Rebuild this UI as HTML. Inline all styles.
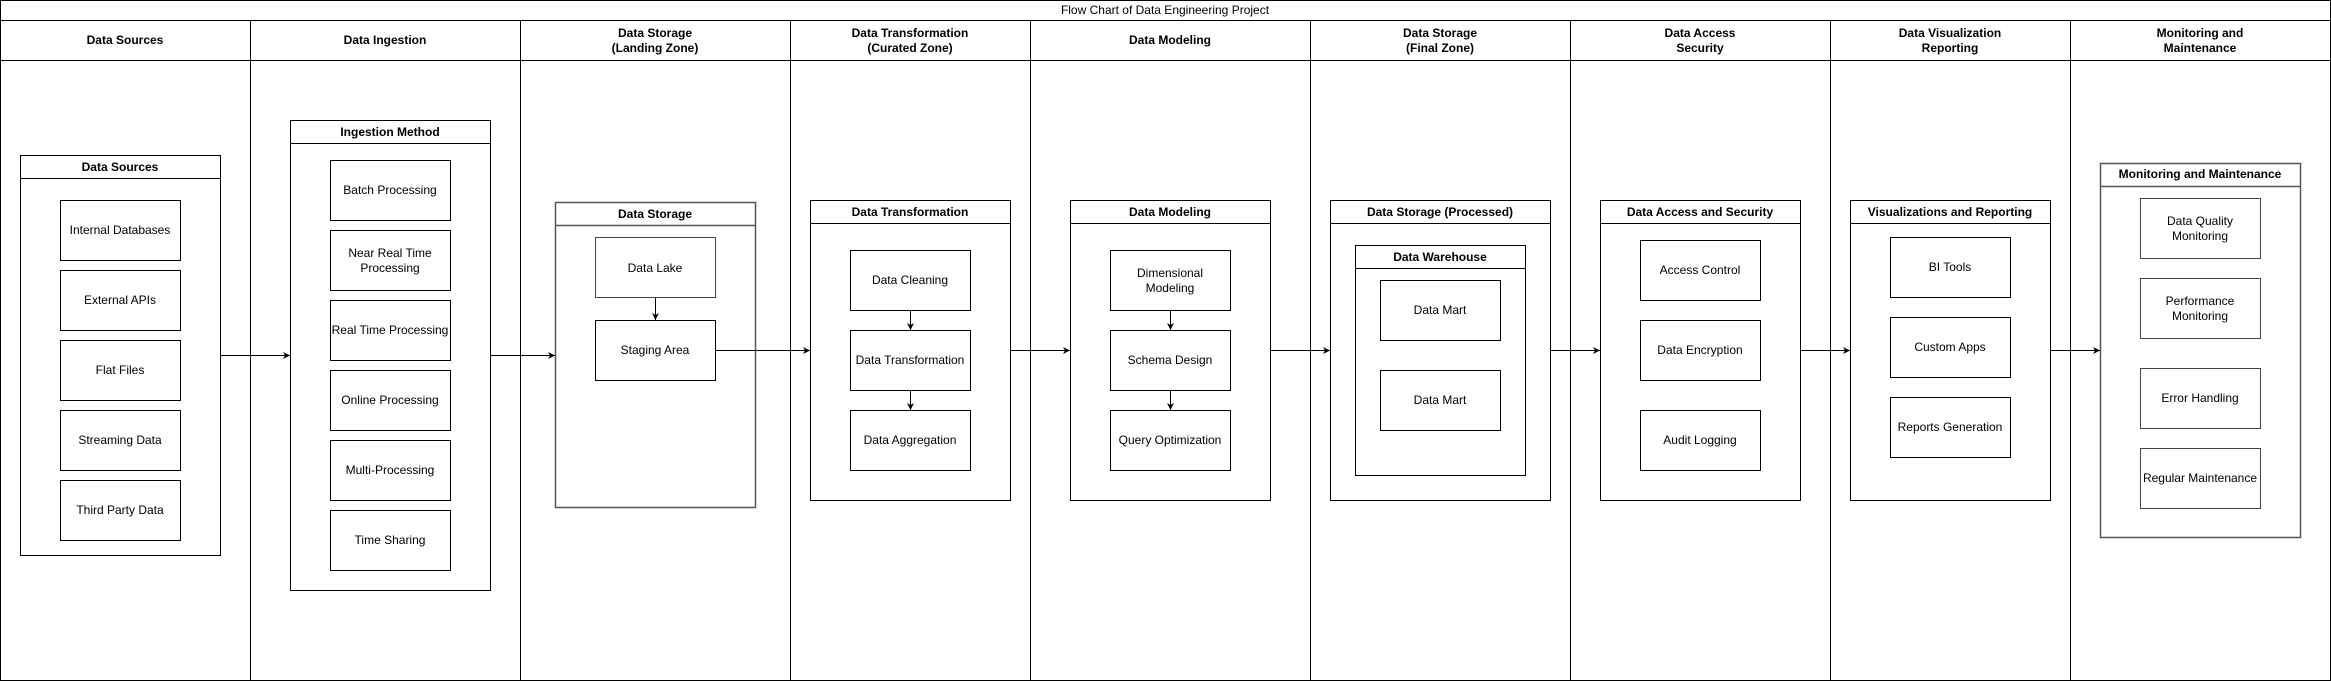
<!DOCTYPE html>
<html><head><meta charset="utf-8"><style>
html,body{margin:0;padding:0;background:#fff}
svg{display:block}
text{font-family:"Liberation Sans",Arial,sans-serif;font-size:12px;fill:#000}
.b{font-weight:bold}
</style></head><body>
<svg width="2331" height="681" viewBox="0 0 2331 681" xmlns="http://www.w3.org/2000/svg">
<defs><marker id="a" markerWidth="8" markerHeight="8" refX="7" refY="4" orient="auto" markerUnits="userSpaceOnUse"><path d="M0,0.5 L7,4 L0,7.5 L2,4 Z" fill="#000"/></marker></defs>
<g fill="none" stroke="#000" stroke-width="1">
<rect x="0.5" y="0.5" width="2330" height="680"/>
<line x1="0" y1="20.5" x2="2331" y2="20.5"/>
<line x1="0" y1="60.5" x2="2331" y2="60.5"/>
<line x1="250.5" y1="20" x2="250.5" y2="681"/>
<line x1="520.5" y1="20" x2="520.5" y2="681"/>
<line x1="790.5" y1="20" x2="790.5" y2="681"/>
<line x1="1030.5" y1="20" x2="1030.5" y2="681"/>
<line x1="1310.5" y1="20" x2="1310.5" y2="681"/>
<line x1="1570.5" y1="20" x2="1570.5" y2="681"/>
<line x1="1830.5" y1="20" x2="1830.5" y2="681"/>
<line x1="2070.5" y1="20" x2="2070.5" y2="681"/>
<!-- containers -->
<rect x="20.5" y="155.5" width="200" height="400"/><line x1="20" y1="178.5" x2="221" y2="178.5"/>
<rect x="290.5" y="120.5" width="200" height="470"/><line x1="290" y1="143.5" x2="491" y2="143.5"/>
<rect x="555.5" y="202.5" width="200" height="305" stroke="#555" stroke-width="1.5"/><line x1="555" y1="225.5" x2="756" y2="225.5" stroke="#555" stroke-width="1.5"/>
<rect x="810.5" y="200.5" width="200" height="300"/><line x1="810" y1="223.5" x2="1011" y2="223.5"/>
<rect x="1070.5" y="200.5" width="200" height="300"/><line x1="1070" y1="223.5" x2="1271" y2="223.5"/>
<rect x="1330.5" y="200.5" width="220" height="300"/><line x1="1330" y1="223.5" x2="1551" y2="223.5"/>
<rect x="1355.5" y="245.5" width="170" height="230"/><line x1="1355" y1="268.5" x2="1526" y2="268.5"/>
<rect x="1600.5" y="200.5" width="200" height="300"/><line x1="1600" y1="223.5" x2="1801" y2="223.5"/>
<rect x="1850.5" y="200.5" width="200" height="300"/><line x1="1850" y1="223.5" x2="2051" y2="223.5"/>
<rect x="2100.5" y="163.5" width="200" height="374" stroke="#555" stroke-width="1.5"/><line x1="2100" y1="186.5" x2="2301" y2="186.5" stroke="#555" stroke-width="1.5"/>
<!-- items -->
<rect x="60.5" y="200.5" width="120" height="60"/><rect x="60.5" y="270.5" width="120" height="60"/><rect x="60.5" y="340.5" width="120" height="60"/><rect x="60.5" y="410.5" width="120" height="60"/><rect x="60.5" y="480.5" width="120" height="60"/>
<rect x="330.5" y="160.5" width="120" height="60"/><rect x="330.5" y="230.5" width="120" height="60"/><rect x="330.5" y="300.5" width="120" height="60"/><rect x="330.5" y="370.5" width="120" height="60"/><rect x="330.5" y="440.5" width="120" height="60"/><rect x="330.5" y="510.5" width="120" height="60"/>
<rect x="595.5" y="237.5" width="120" height="60" stroke="#444"/><rect x="595.5" y="320.5" width="120" height="60"/>
<rect x="850.5" y="250.5" width="120" height="60"/><rect x="850.5" y="330.5" width="120" height="60"/><rect x="850.5" y="410.5" width="120" height="60"/>
<rect x="1110.5" y="250.5" width="120" height="60"/><rect x="1110.5" y="330.5" width="120" height="60"/><rect x="1110.5" y="410.5" width="120" height="60"/>
<rect x="1380.5" y="280.5" width="120" height="60"/><rect x="1380.5" y="370.5" width="120" height="60"/>
<rect x="1640.5" y="240.5" width="120" height="60"/><rect x="1640.5" y="320.5" width="120" height="60"/><rect x="1640.5" y="410.5" width="120" height="60"/>
<rect x="1890.5" y="237.5" width="120" height="60"/><rect x="1890.5" y="317.5" width="120" height="60"/><rect x="1890.5" y="397.5" width="120" height="60"/>
<g stroke="#444"><rect x="2140.5" y="198.5" width="120" height="60"/><rect x="2140.5" y="278.5" width="120" height="60"/><rect x="2140.5" y="368.5" width="120" height="60"/><rect x="2140.5" y="448.5" width="120" height="60"/></g>
<!-- arrows -->
<g marker-end="url(#a)">
<line x1="221" y1="355.5" x2="290" y2="355.5"/>
<line x1="491" y1="355.5" x2="555" y2="355.5"/>
<line x1="716" y1="350.5" x2="810" y2="350.5"/>
<line x1="1011" y1="350.5" x2="1070" y2="350.5"/>
<line x1="1271" y1="350.5" x2="1330" y2="350.5"/>
<line x1="1551" y1="350.5" x2="1600" y2="350.5"/>
<line x1="1801" y1="350.5" x2="1850" y2="350.5"/>
<line x1="2051" y1="350.5" x2="2100" y2="350.5"/>
<line x1="655.5" y1="298" x2="655.5" y2="320"/>
<line x1="910.5" y1="311" x2="910.5" y2="330"/>
<line x1="910.5" y1="391" x2="910.5" y2="410"/>
<line x1="1170.5" y1="311" x2="1170.5" y2="330"/>
<line x1="1170.5" y1="391" x2="1170.5" y2="410"/>
</g>
</g>
<g text-anchor="middle">
<text x="1165" y="14">Flow Chart of Data Engineering Project</text>
<g class="b">
<text class="b" x="125" y="44">Data Sources</text>
<text class="b" x="385" y="44">Data Ingestion</text>
<text class="b" x="655" y="37">Data Storage</text><text class="b" x="655" y="52">(Landing Zone)</text>
<text class="b" x="910" y="37">Data Transformation</text><text class="b" x="910" y="52">(Curated Zone)</text>
<text class="b" x="1170" y="44">Data Modeling</text>
<text class="b" x="1440" y="37">Data Storage</text><text class="b" x="1440" y="52">(Final Zone)</text>
<text class="b" x="1700" y="37">Data Access</text><text class="b" x="1700" y="52">Security</text>
<text class="b" x="1950" y="37">Data Visualization</text><text class="b" x="1950" y="52">Reporting</text>
<text class="b" x="2200" y="37">Monitoring and</text><text class="b" x="2200" y="52">Maintenance</text>
<text class="b" x="120" y="171">Data Sources</text>
<text class="b" x="390" y="136">Ingestion Method</text>
<text class="b" x="655" y="218">Data Storage</text>
<text class="b" x="910" y="216">Data Transformation</text>
<text class="b" x="1170" y="216">Data Modeling</text>
<text class="b" x="1440" y="216">Data Storage (Processed)</text>
<text class="b" x="1440" y="261">Data Warehouse</text>
<text class="b" x="1700" y="216">Data Access and  Security</text>
<text class="b" x="1950" y="216">Visualizations and Reporting</text>
<text class="b" x="2200" y="178">Monitoring and Maintenance</text>
</g>
<text x="120" y="234">Internal Databases</text>
<text x="120" y="304">External APIs</text>
<text x="120" y="374">Flat Files</text>
<text x="120" y="444">Streaming Data</text>
<text x="120" y="514">Third Party Data</text>
<text x="390" y="194">Batch Processing</text>
<text x="390" y="257">Near Real Time</text><text x="390" y="272">Processing</text>
<text x="390" y="334">Real Time Processing</text>
<text x="390" y="404">Online Processing</text>
<text x="390" y="474">Multi-Processing</text>
<text x="390" y="544">Time Sharing</text>
<text x="655" y="272">Data Lake</text>
<text x="655" y="354">Staging Area</text>
<text x="910" y="284">Data Cleaning</text>
<text x="910" y="364">Data Transformation</text>
<text x="910" y="444">Data Aggregation</text>
<text x="1170" y="277">Dimensional</text><text x="1170" y="292">Modeling</text>
<text x="1170" y="364">Schema Design</text>
<text x="1170" y="444">Query Optimization</text>
<text x="1440" y="314">Data Mart</text>
<text x="1440" y="404">Data Mart</text>
<text x="1700" y="274">Access Control</text>
<text x="1700" y="354">Data Encryption</text>
<text x="1700" y="444">Audit Logging</text>
<text x="1950" y="271">BI Tools</text>
<text x="1950" y="351">Custom Apps</text>
<text x="1950" y="431">Reports Generation</text>
<text x="2200" y="225">Data Quality</text><text x="2200" y="240">Monitoring</text>
<text x="2200" y="305">Performance</text><text x="2200" y="320">Monitoring</text>
<text x="2200" y="402">Error Handling</text>
<text x="2200" y="482">Regular Maintenance</text>
</g>
</svg>
</body></html>
